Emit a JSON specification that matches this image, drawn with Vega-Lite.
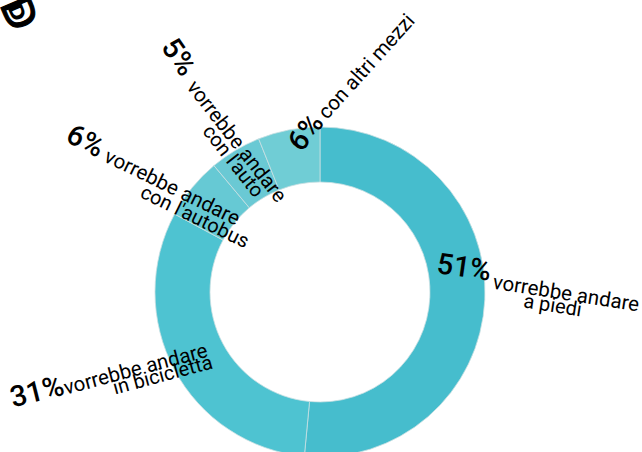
{
"$schema":"https://vega.github.io/schema/vega-lite/v6.json",
"width":640,"height":584,"padding":0,"autosize":{"type":"none"},
"background":"white","view":{"stroke":null},
"datasets":{"fette":[
{"n":1,"categoria":"a piedi","valore":51,"pct":"51%","riga1":"vorrebbe andare","riga2":"a piedi"},
{"n":2,"categoria":"in bicicletta","valore":31,"pct":"31%","riga1":"vorrebbe andare","riga2":"in bicicletta"},
{"n":3,"categoria":"con l'autobus","valore":6,"pct":"6%","riga1":"vorrebbe andare","riga2":"con l'autobus"},
{"n":4,"categoria":"con l'auto","valore":5,"pct":"5%","riga1":"vorrebbe andare","riga2":"con l'auto"},
{"n":5,"categoria":"con altri mezzi","valore":6,"pct":"6%","riga1":"con altri mezzi","riga2":""}
],"logo":[{"simbolo":"D"}]},
"data":{"name":"fette"},
"layer":[
{"mark":{"type":"arc","innerRadius":110,"outerRadius":165,"stroke":"#c9dfe2","strokeWidth":0.8},
"encoding":{"theta":{"field":"valore","type":"quantitative","stack":true,"scale":{"domain":[0,99],"range":[0,6.28319]}},
"order":{"field":"n","type":"quantitative"},
"color":{"field":"categoria","type":"nominal","legend":null,"scale":{"domain":["a piedi","in bicicletta","con l'autobus","con l'auto","con altri mezzi"],"range":["#46BDCD","#4EC3D1","#66C9D4","#6AC9D4","#70CDD5"]}}}},
{"transform":[{"filter":"datum.n==1"}],"mark":{"type":"text","font":"Roboto","fontSize":29,"fontWeight":500,"align":"center","baseline":"middle","theta":1.405,"radius":146,"angle":8},"encoding":{"text":{"field":"pct"}}},
{"transform":[{"filter":"datum.n==2"}],"mark":{"type":"text","font":"Roboto","fontSize":29,"fontWeight":500,"align":"center","baseline":"middle","theta":4.372,"radius":300,"angle":-14},"encoding":{"text":{"field":"pct"}}},
{"transform":[{"filter":"datum.n==3"}],"mark":{"type":"text","font":"Roboto","fontSize":29,"fontWeight":500,"align":"center","baseline":"middle","theta":5.283,"radius":279,"angle":27},"encoding":{"text":{"field":"pct"}}},
{"transform":[{"filter":"datum.n==4"}],"mark":{"type":"text","font":"Roboto","fontSize":29,"fontWeight":500,"align":"center","baseline":"middle","theta":5.74,"radius":274,"angle":55},"encoding":{"text":{"field":"pct"}}},
{"transform":[{"filter":"datum.n==5"}],"mark":{"type":"text","font":"Roboto","fontSize":29,"fontWeight":500,"align":"center","baseline":"middle","theta":6.196,"radius":160,"angle":-52},"encoding":{"text":{"field":"pct"}}},
{"transform":[{"filter":"datum.n==1"}],"mark":{"type":"text","font":"Roboto","fontSize":20.5,"align":"center","baseline":"middle","theta":1.579,"radius":246,"angle":9},"encoding":{"text":{"field":"riga1"}}},
{"transform":[{"filter":"datum.n==2"}],"mark":{"type":"text","font":"Roboto","fontSize":20.5,"align":"center","baseline":"middle","theta":4.313,"radius":200,"angle":-15},"encoding":{"text":{"field":"riga1"}}},
{"transform":[{"filter":"datum.n==3"}],"mark":{"type":"text","font":"Roboto","fontSize":20.5,"align":"center","baseline":"middle","theta":5.325,"radius":181,"angle":26},"encoding":{"text":{"field":"riga1"}}},
{"transform":[{"filter":"datum.n==4"}],"mark":{"type":"text","font":"Roboto","fontSize":20.5,"align":"center","baseline":"middle","theta":5.774,"radius":172,"angle":52},"encoding":{"text":{"field":"riga1"}}},
{"transform":[{"filter":"datum.n==5"}],"mark":{"type":"text","font":"Roboto","fontSize":20.5,"align":"center","baseline":"middle","theta":0.206,"radius":230,"angle":-48},"encoding":{"text":{"field":"riga1"}}},
{"transform":[{"filter":"datum.n==1"}],"mark":{"type":"text","font":"Roboto","fontSize":20,"align":"center","baseline":"middle","theta":1.631,"radius":233,"angle":9},"encoding":{"text":{"field":"riga2"}}},
{"transform":[{"filter":"datum.n==2"}],"mark":{"type":"text","font":"Roboto","fontSize":20,"align":"center","baseline":"middle","theta":4.224,"radius":178,"angle":-15},"encoding":{"text":{"field":"riga2"}}},
{"transform":[{"filter":"datum.n==3"}],"mark":{"type":"text","font":"Roboto","fontSize":20,"align":"center","baseline":"middle","theta":5.25,"radius":146,"angle":26},"encoding":{"text":{"field":"riga2"}}},
{"transform":[{"filter":"datum.n==4"}],"mark":{"type":"text","font":"Roboto","fontSize":20,"align":"center","baseline":"middle","theta":5.695,"radius":157,"angle":52},"encoding":{"text":{"field":"riga2"}}},
{"data":{"name":"logo"},"mark":{"type":"text","font":"DejaVu Sans","fontSize":42,"align":"center","baseline":"middle","theta":5.456,"radius":411,"angle":67,"stroke":"#000","strokeWidth":1.2},"encoding":{"text":{"field":"simbolo"}}},
{"data":{"name":"logo"},"mark":{"type":"text","font":"DejaVu Sans","fontWeight":"bold","fontSize":20,"align":"center","baseline":"middle","theta":5.456,"radius":413,"angle":67},"encoding":{"text":{"field":"simbolo"}}}
]}
